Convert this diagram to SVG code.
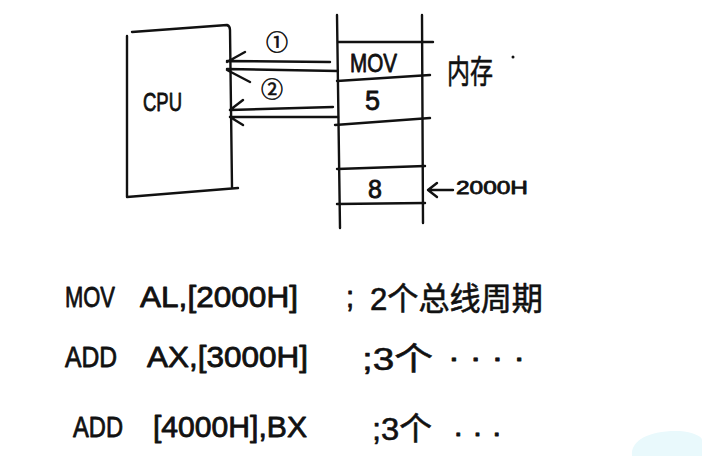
<svg xmlns="http://www.w3.org/2000/svg" width="702" height="456" viewBox="0 0 702 456">
<style>
.ln{fill:none;stroke:#111;stroke-width:2.4;stroke-linecap:round;stroke-linejoin:round}
.t{font-family:"Liberation Sans","Noto Sans CJK SC",sans-serif;fill:#111;stroke:#111;stroke-width:0.8;stroke-linejoin:round}
.c{font-family:"Liberation Sans","Noto Sans CJK SC",sans-serif;fill:#111;stroke:#111;stroke-width:0.6;stroke-linejoin:round}
</style>
<rect width="702" height="456" fill="#fff"/>
<path d="M632,456 C630,440 650,430 680,431 C692,432 702,436 702,440 L702,456 Z" fill="#e9f9fc"/>
<g id="cpu">
<path class="ln" d="M132,32 L227,25 Q230,26 230,30 L232,187"/>
<path class="ln" d="M127,36 L127,197 L238,188"/>
<text class="t" x="143" y="111" font-size="25" textLength="39" lengthAdjust="spacingAndGlyphs">CPU</text>
</g>
<g id="memory">
<path class="ln" d="M337,15 L340,228"/>
<path class="ln" d="M422,15 L423,223"/>
<path class="ln" d="M338,42 L433,42"/>
<path class="ln" d="M337,81 L430,75"/>
<path class="ln" d="M335,125 L430,118"/>
<path class="ln" d="M337,169 L425,166"/>
<path class="ln" d="M337,204 L425,203"/>
<text class="t" x="350" y="72" font-size="25" textLength="47" lengthAdjust="spacingAndGlyphs">MOV</text>
<text class="t" x="365" y="110" font-size="27">5</text>
<text class="t" x="368" y="198" font-size="25">8</text>
<text class="c" x="447" y="83" font-size="32" textLength="46" lengthAdjust="spacingAndGlyphs">内存</text>
<circle cx="513" cy="57" r="1.5" fill="#111"/>
</g>
<g id="connectors">
<path class="ln" d="M330,62 L227,61 M338,71 L227,69 M245,52 L227,62 M227,70 L250,82"/>
<path class="ln" d="M333,107 L230,110 M338,117 L230,117 M243,100 L230,110 M230,117 L243,125"/>
<path class="ln" d="M453,190 L428,190 M437,183 L428,190 L437,197"/>
</g>
<g id="labels">
<text class="c" x="277" y="50" font-size="22" text-anchor="middle">①</text>
<text class="c" x="272" y="97" font-size="22" text-anchor="middle">②</text>
<text class="t" x="456" y="194" font-size="19" textLength="72" lengthAdjust="spacingAndGlyphs">2000H</text>
</g>
<g id="code">
<text class="t" x="65" y="307" font-size="29" textLength="50" lengthAdjust="spacingAndGlyphs">MOV</text>
<text class="t" x="140" y="307" font-size="29" textLength="158" lengthAdjust="spacingAndGlyphs">AL,[2000H]</text>
<text class="t" x="346" y="307" font-size="29">;</text>
<text class="c" x="370" y="310" font-size="32" textLength="173" lengthAdjust="spacingAndGlyphs">2个总线周期</text>
<text class="t" x="65" y="367" font-size="29" textLength="52" lengthAdjust="spacingAndGlyphs">ADD</text>
<text class="t" x="147" y="367" font-size="29" textLength="161" lengthAdjust="spacingAndGlyphs">AX,[3000H]</text>
<text class="c" x="362" y="370" font-size="32" textLength="71" lengthAdjust="spacingAndGlyphs">;3个</text>
<text class="t" x="448" y="367" font-size="29" textLength="77" lengthAdjust="spacingAndGlyphs">· · · ·</text>
<text class="t" x="73" y="437" font-size="29" textLength="50" lengthAdjust="spacingAndGlyphs">ADD</text>
<text class="t" x="153" y="437" font-size="29" textLength="154" lengthAdjust="spacingAndGlyphs">[4000H],BX</text>
<text class="c" x="372" y="440" font-size="32" textLength="60" lengthAdjust="spacingAndGlyphs">;3个</text>
<text class="t" x="453" y="442" font-size="29" textLength="49" lengthAdjust="spacingAndGlyphs">· · ·</text>
</g>
</svg>
